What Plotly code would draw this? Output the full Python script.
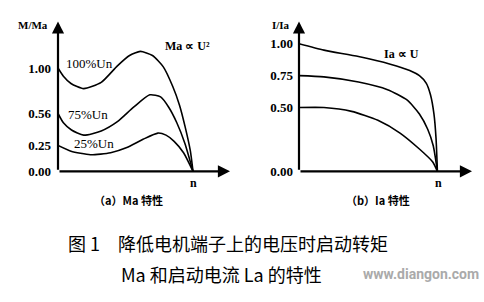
import plotly.graph_objects as go

# ---- data ----
# (a) torque characteristic M/Ma vs n
ma_x100 = [0, 0.04, 0.096, 0.19, 0.32, 0.44, 0.53, 0.61, 0.70, 0.78, 0.85, 0.90, 0.94, 0.98, 1.0]
ma_y100 = [1.00, 0.92, 0.85, 0.80, 0.86, 1.02, 1.12, 1.16, 1.12, 1.01, 0.82, 0.64, 0.44, 0.20, 0.0]
ma_x75 = [0, 0.04, 0.10, 0.19, 0.32, 0.44, 0.56, 0.68, 0.76, 0.82, 0.88, 0.94, 1.0]
ma_y75 = [0.56, 0.47, 0.40, 0.35, 0.39, 0.48, 0.62, 0.74, 0.72, 0.62, 0.47, 0.27, 0.0]
ma_x25 = [0, 0.096, 0.24, 0.39, 0.51, 0.63, 0.74, 0.80, 0.86, 0.93, 1.0]
ma_y25 = [0.25, 0.195, 0.16, 0.18, 0.23, 0.31, 0.37, 0.35, 0.29, 0.18, 0.0]
ma_ticks = [0.00, 0.25, 0.56, 1.00]
ma_ticktext = ["0.00", "0.25", "0.56", "1.00"]
ma_labels = ["100%Un", "75%Un", "25%Un"]

# (b) current characteristic I/Ia vs n
ia_x100 = [0, 0.18, 0.43, 0.66, 0.80, 0.87, 0.92, 0.95, 0.975, 0.99, 1.0]
ia_y100 = [1.00, 0.95, 0.90, 0.84, 0.79, 0.75, 0.69, 0.60, 0.45, 0.26, 0.0]
ia_x75 = [0, 0.18, 0.43, 0.64, 0.78, 0.87, 0.93, 0.97, 1.0]
ia_y75 = [0.75, 0.74, 0.70, 0.64, 0.56, 0.45, 0.33, 0.20, 0.0]
ia_x50 = [0, 0.18, 0.38, 0.57, 0.73, 0.87, 0.965, 1.0]
ia_y50 = [0.50, 0.50, 0.47, 0.40, 0.30, 0.175, 0.075, 0.0]
ia_ticks = [0.00, 0.50, 0.75, 1.00]
ia_ticktext = ["0.00", "0.50", "0.75", "1.00"]

W, H = 484, 302
def px(x): return x / W
def py(y): return 1 - y / H

SERIF = "Liberation Serif"
CJK = "Noto Sans CJK SC"

fig = go.Figure()
line = dict(color="black", width=1.6, shape="spline", smoothing=0.6)
for xs, ys in [(ma_x100, ma_y100), (ma_x75, ma_y75), (ma_x25, ma_y25)]:
    fig.add_trace(go.Scatter(x=xs, y=ys, mode="lines", line=line, xaxis="x", yaxis="y",
                             showlegend=False, hoverinfo="skip"))
for xs, ys in [(ia_x100, ia_y100), (ia_x75, ia_y75), (ia_x50, ia_y50)]:
    fig.add_trace(go.Scatter(x=xs, y=ys, mode="lines", line=line, xaxis="x2", yaxis="y2",
                             showlegend=False, hoverinfo="skip"))

ydom = [py(176), py(22)]
axis_common = dict(showgrid=False, zeroline=False, showline=False, fixedrange=True)
tickfont = dict(family=SERIF, size=13, color="black")
fig.update_layout(
    width=W, height=H, margin=dict(l=0, r=0, t=0, b=0),
    plot_bgcolor="white", paper_bgcolor="white",
    xaxis=dict(domain=[px(58), px(230)], range=[0, 1.274], showticklabels=False, ticks="", **axis_common),
    yaxis=dict(domain=ydom, range=[0, 1.45], tickvals=ma_ticks,
               ticktext=["<b>%s</b>" % t for t in ma_ticktext], ticks="", ticklabelstandoff=6,
               tickfont=tickfont, **axis_common),
    xaxis2=dict(domain=[px(299), px(472)], range=[0, 1.25], showticklabels=False, ticks="",
                anchor="y2", **axis_common),
    yaxis2=dict(domain=ydom, range=[0, 1.175], tickvals=ia_ticks,
                ticktext=["<b>%s</b>" % t for t in ia_ticktext], ticks="", ticklabelstandoff=5,
                anchor="x2", tickfont=tickfont, **axis_common),
)

ann = []
# axis arrows
for xa, ya, xmax, ymax in [("x", "y", 1.274, 1.45), ("x2", "y2", 1.25, 1.175)]:
    ann.append(dict(x=xmax, y=0, ax=0, ay=0, xref=xa, yref=ya, axref=xa, ayref=ya, text="",
                    showarrow=True, arrowhead=2, arrowsize=1.1, arrowwidth=2.2, arrowcolor="black"))
    ann.append(dict(x=0, y=ymax, ax=0, ay=0, xref=xa, yref=ya, axref=xa, ayref=ya, text="",
                    showarrow=True, arrowhead=2, arrowsize=1.1, arrowwidth=2.2, arrowcolor="black"))

def txt(x, y, s, size=12, family=SERIF, color="black", xanchor="center", bold=True, weight=None):
    if bold:
        s = "<b>" + s + "</b>"
    f = dict(family=family, size=size, color=color)
    if weight is not None:
        f["weight"] = weight
    ann.append(dict(x=px(x), y=py(y), xref="paper", yref="paper", text=s, showarrow=False,
                    xanchor=xanchor, yanchor="middle", font=f))

txt(33, 26, "M/Ma", 11)
txt(281, 26, "I/Ia", 11)
txt(187, 47, "Ma ∝ U²", 12)
txt(401, 55, "Ia ∝ U", 12)
txt(89, 65, ma_labels[0], 13, bold=False)
txt(88, 118, ma_labels[1], 13, bold=False)
txt(94, 147, ma_labels[2], 13, bold=False)
txt(193, 188, "n", 12)
txt(438, 188, "n", 12)
txt(128, 205, "（a）Ma 特性", 11, family=CJK)
txt(378, 205, "（b）Ia 特性", 11, family=CJK)
txt(66, 250, "图 1　降低电机端子上的电压时启动转矩", 18, family=CJK, xanchor="left", bold=False, weight=400)
txt(119, 281, "Ma 和启动电流 La 的特性", 18, family=CJK, xanchor="left", bold=False, weight=400)
txt(481, 281, "www.diangon.com", 14, family="Liberation Sans Narrow, Roboto", color="#aaaaaa", xanchor="right")

fig.update_layout(annotations=ann)
fig.write_html("out.html")
